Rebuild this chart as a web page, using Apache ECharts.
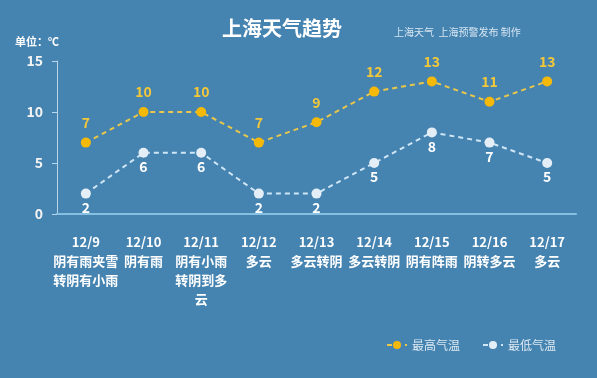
<!DOCTYPE html>
<html><head><meta charset="utf-8">
<script src="https://cdn.jsdelivr.net/npm/echarts@6/dist/echarts.min.js"></script>
<style>html,body{margin:0;padding:0;background:#4583b0}#c{width:597px;height:378px}</style>
</head><body><div id="c"></div>
<script>
var dates = ['12/9','12/10','12/11','12/12','12/13','12/14','12/15','12/16','12/17'];
var weather = ['阴有雨夹雪\n转阴有小雨','阴有雨','阴有小雨\n转阴到多\n云','多云','多云转阴','多云转阴','阴有阵雨','阴转多云','多云'];
var highTemp = [7,10,10,7,9,12,13,11,13];
var lowTemp = [2,6,6,2,2,5,8,7,5];
var yTicks = [0,5,10,15];

var cats = dates.map(function(d,i){return d+'\n'+weather[i];});
var font = '"Microsoft YaHei","Noto Sans CJK SC",sans-serif';
var chart = echarts.init(document.getElementById('c'));
chart.setOption({
  backgroundColor:'#4583b0',
  animation:false,
  title:[
    {text:'上海天气趋势',left:277,top:13,textAlign:'center',textStyle:{color:'#ffffff',fontSize:20,fontWeight:'bold',fontFamily:font}},
    {text:'上海天气  上海预警发布 制作',left:389,top:22,textStyle:{color:'#d6e6f2',fontSize:10,fontWeight:'normal',fontFamily:font}},
    {text:'单位：℃',left:10,top:31,textStyle:{color:'#ffffff',fontSize:11,fontWeight:'bold',fontFamily:font}}
  ],
  legend:{
    right:36,bottom:22,itemGap:22,itemWidth:20,itemHeight:10,
    textStyle:{color:'#dde9f3',fontSize:12,fontFamily:font},
    data:['最高气温','最低气温']
  },
  grid:{left:57,right:21,top:61,bottom:164},
  xAxis:{
    type:'category',data:cats,boundaryGap:true,
    axisLine:{lineStyle:{color:'#86bfe2',width:2}},
    axisTick:{show:false},
    axisLabel:{color:'#ffffff',fontSize:13,fontWeight:'bold',fontFamily:font,margin:19,lineHeight:19,interval:0,
      formatter:function(v){return v;}}
  },
  yAxis:{
    type:'value',min:yTicks[0],max:yTicks[yTicks.length-1],interval:5,
    axisLine:{show:true,lineStyle:{color:'#b9d6ea',width:1}},
    axisTick:{show:true,length:5,lineStyle:{color:'#b9d6ea'}},
    splitLine:{show:false},
    axisLabel:{color:'#f4f4f4',fontSize:14,fontWeight:'bold',fontFamily:font,margin:14}
  },
  series:[
    {name:'最高气温',type:'line',data:highTemp,symbol:'circle',symbolSize:10,
      itemStyle:{color:'#f5b90a'},
      lineStyle:{color:'#e9c74a',width:2,type:[5,4]},
      label:{show:true,position:'top',distance:8,color:'#f2c83a',fontSize:14,fontWeight:'bold',fontFamily:font}},
    {name:'最低气温',type:'line',data:lowTemp,symbol:'circle',symbolSize:10,
      itemStyle:{color:'#e3eef7'},
      lineStyle:{color:'#cfe6f6',width:2,type:[5,4]},
      label:{show:true,position:'bottom',distance:2,color:'#ffffff',fontSize:14,fontWeight:'bold',fontFamily:font}}
  ]
});
</script></body></html>
